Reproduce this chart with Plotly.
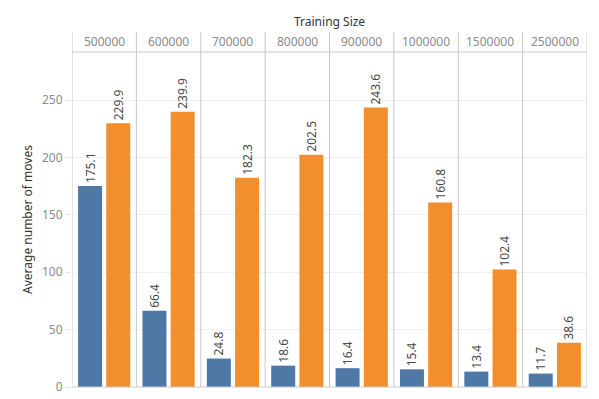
import plotly.graph_objects as go

categories = ["500000", "600000", "700000", "800000", "900000", "1000000", "1500000", "2500000"]
series_blue = [175.1, 66.4, 24.8, 18.6, 16.4, 15.4, 13.4, 11.7]
series_orange = [229.9, 239.9, 182.3, 202.5, 243.6, 160.8, 102.4, 38.6]
y_ticks = [0, 50, 100, 150, 200, 250]

FONT = "Noto Sans"
BORDER = "#c8c8c8"

fig = go.Figure()
for name, vals, color in [("Series 1", series_blue, "#4e79a7"), ("Series 2", series_orange, "#f28e2b")]:
    fig.add_trace(go.Bar(
        x=categories, y=vals, name=name, marker=dict(color=color, line=dict(width=0)),
        text=[f"{v:.1f}" for v in vals], textposition="outside", textangle=-90,
        textfont=dict(family=FONT, size=12, color="#4a4a4a"),
        constraintext="none", cliponaxis=False, showlegend=False,
    ))

# page body has an 8px default margin, so the figure is offset by 8px
W, H = 591, 391
ml, mr, mt, mb = 64, 12, 44, 12
ph = H - mt - mb
fig.update_layout(
    width=W, height=H, margin=dict(l=ml, r=mr, t=mt, b=mb, autoexpand=False),
    barmode="group", bargap=0.123, bargroupgap=0.15,
    plot_bgcolor="white", paper_bgcolor="white",
    font=dict(family=FONT),
    xaxis=dict(type="category", showticklabels=False, showgrid=False, zeroline=False,
               showline=False, ticks="", range=[-0.5, len(categories) - 0.5], automargin=False),
    yaxis=dict(range=[0, 292], tickvals=y_ticks, showgrid=True, gridcolor="#efefef", gridwidth=1,
               zeroline=False, showline=False, ticks="outside", ticklen=6, tickcolor="#e6e6e6",
               tickfont=dict(family=FONT, size=12, color="#8a8a8a"), automargin=False,
               title=dict(text="Average number of moves", font=dict(family=FONT, size=12, color="#333333"),
                          standoff=6)),
)

top = 1 + 20 / ph
shapes = []
for i in range(len(categories) + 1):
    shapes.append(dict(type="line", xref="x", yref="paper", x0=i - 0.5, x1=i - 0.5, y0=0, y1=top,
                       line=dict(color=BORDER, width=1)))
shapes.append(dict(type="line", xref="x", yref="paper", x0=-0.5, x1=len(categories) - 0.5, y0=1, y1=1,
                   line=dict(color=BORDER, width=1)))
shapes.append(dict(type="line", xref="x", yref="paper", x0=-0.5, x1=len(categories) - 0.5, y0=0, y1=0,
                   line=dict(color=BORDER, width=1)))
fig.update_layout(shapes=shapes)

for i, c in enumerate(categories):
    fig.add_annotation(x=i, xref="x", yref="paper", y=1 + 10 / ph, text=c, showarrow=False,
                       font=dict(family=FONT, size=12, color="#8a8a8a"), yanchor="middle")
fig.add_annotation(x=0.5, xref="paper", yref="paper", y=1 + 30 / ph, text="Training Size", showarrow=False,
                   font=dict(family=FONT, size=12, color="#333333"), yanchor="middle")

fig.write_html("out.html")
